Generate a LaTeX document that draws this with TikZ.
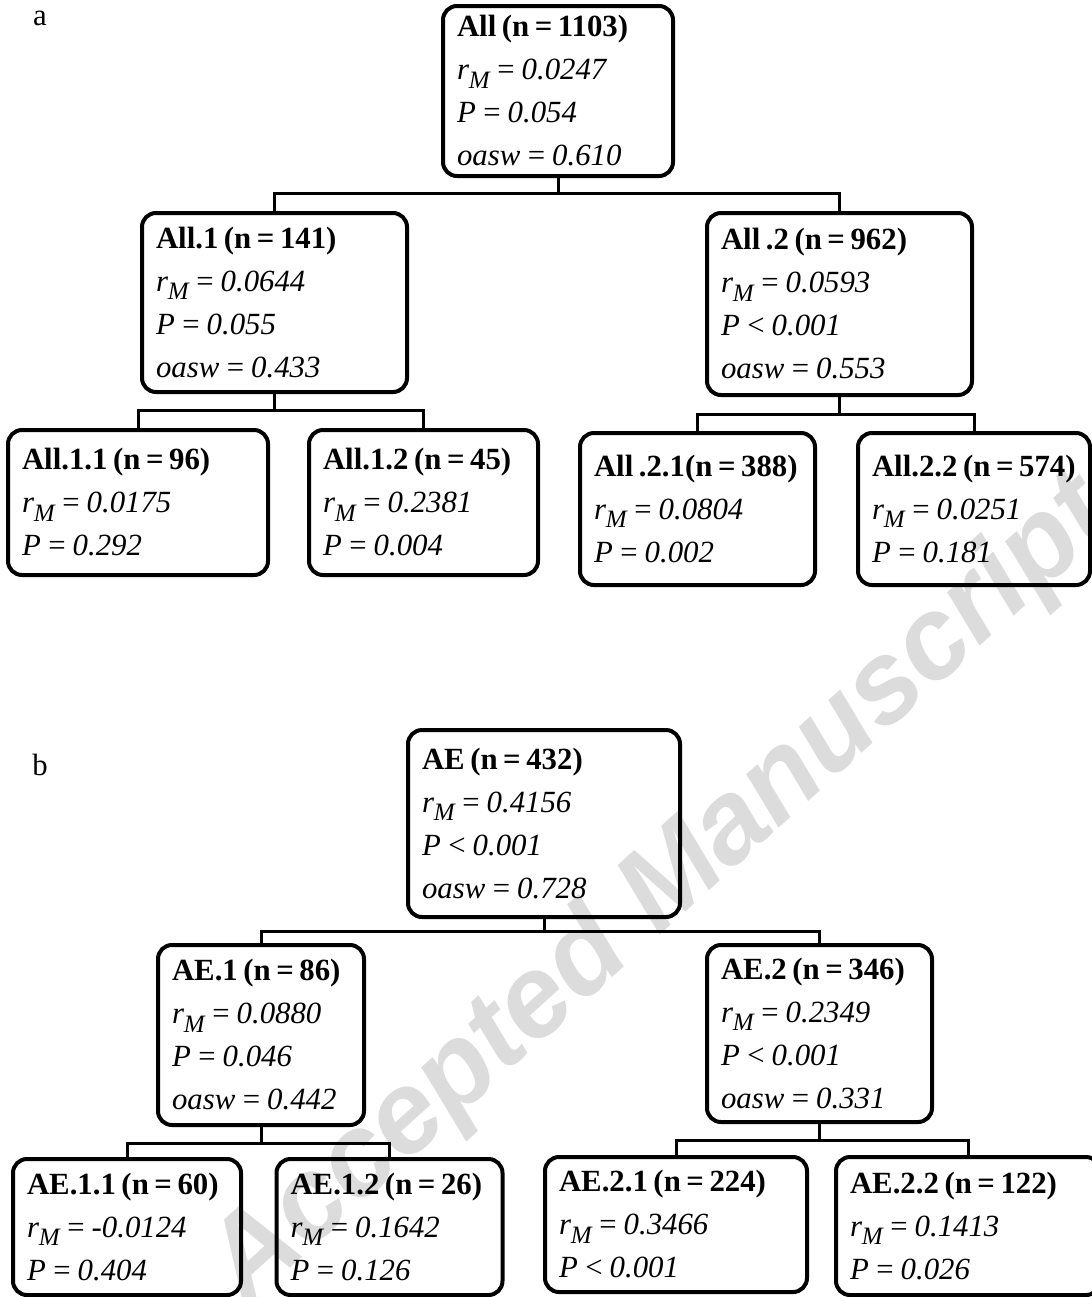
\documentclass[tikz,border=0pt]{standalone}
\usepackage{fontspec}
\setmainfont{Liberation Serif}
\newfontfamily\wmfont{Liberation Sans}
\definecolor{wmgray}{RGB}{220,220,220}
\newcommand\tightsp{\spaceskip=0.18em\relax\xspaceskip=0.18em\relax}
\newcommand\bline[1]{\mbox{\bfseries\tightsp #1}}
\newcommand\iline[1]{\mbox{\itshape\tightsp #1}}
\newcommand\rline[1]{\mbox{\itshape\tightsp r\raisebox{-0.6ex}{\fontsize{12.5pt}{12.5pt}\selectfont M} = #1}}
\begin{document}
\begin{tikzpicture}[x=0.5pt,y=-0.5pt,
  box/.style={draw, line width=2pt, rounded corners=7pt, align=left,
    inner xsep=7pt, inner ysep=0pt, font=\fontsize{15.4pt}{21.5pt}\selectfont},
  link/.style={line width=1.5pt},
  lab/.style={inner sep=0pt, font=\fontsize{15.4pt}{21.5pt}\selectfont},
  wmark/.style={text=wmgray, inner sep=0pt,
    font=\fontsize{58pt}{58pt}\selectfont\wmfont\bfseries\itshape}]
\useasboundingbox (0,0) rectangle (1092,1297);

% watermark
\node[wmark, rotate=42] (wmk) at (662,893) {Accepted Manuscript};

% panel labels
\node[lab] (la) at (40,18) {a};
\node[lab] (lb) at (40,765) {b};

% ---------- panel a ----------
\node[box, text width=101pt, minimum height=85pt] (rA) at (558,91)
  {\bline{All (n = 1103)}\\ \rline{0.0247}\\ \iline{P = 0.054}\\ \iline{oasw = 0.610}};
\node[box, text width=118.5pt, minimum height=89.5pt] (A1) at (274.5,302.5)
  {\bline{All.1 (n = 141)}\\ \rline{0.0644}\\ \iline{P = 0.055}\\ \iline{oasw = 0.433}};
\node[box, text width=118.5pt, minimum height=91pt] (A2) at (839.5,304)
  {\bline{All .2 (n = 962)}\\ \rline{0.0593}\\ \iline{P < 0.001}\\ \iline{oasw = 0.553}};
\node[box, text width=116pt, minimum height=72.5pt] (A11) at (138,502.5)
  {\bline{All.1.1 (n = 96)}\\ \rline{0.0175}\\ \iline{P = 0.292}};
\node[box, text width=100.5pt, minimum height=72.5pt] (A12) at (423.5,502.5)
  {\bline{All.1.2 (n = 45)}\\ \rline{0.2381}\\ \iline{P = 0.004}};
\node[box, text width=103.5pt, minimum height=76pt] (A21) at (697.5,509)
  {\bline{All .2.1(n = 388)}\\ \rline{0.0804}\\ \iline{P = 0.002}};
\node[box, text width=102pt, minimum height=76pt] (A22) at (974,509)
  {\bline{All.2.2 (n = 574)}\\ \rline{0.0251}\\ \iline{P = 0.181}};

\coordinate (jA) at (558,193);
\coordinate (jA1) at (274.5,410);
\coordinate (jA2) at (839.5,414);
\draw[link] (rA.south) -- (jA);
\draw[link] (A1.north) |- (jA) -| (A2.north);
\draw[link] (A1.south) -- (jA1);
\draw[link] (A11.north) |- (jA1) -| (A12.north);
\draw[link] (A2.south) -- (jA2);
\draw[link] (A21.north) |- (jA2) -| (A22.north);

% ---------- panel b ----------
\node[box, text width=122pt, minimum height=93.5pt] (rB) at (544,823.5)
  {\bline{AE (n = 432)}\\ \rline{0.4156}\\ \iline{P < 0.001}\\ \iline{oasw = 0.728}};
\node[box, text width=89pt, minimum height=90pt] (B1) at (261,1035)
  {\bline{AE.1 (n = 86)}\\ \rline{0.0880}\\ \iline{P = 0.046}\\ \iline{oasw = 0.442}};
\node[box, text width=98.5pt, minimum height=88.5pt] (B2) at (819.5,1033.5)
  {\bline{AE.2 (n = 346)}\\ \rline{0.2349}\\ \iline{P < 0.001}\\ \iline{oasw = 0.331}};
\node[box, text width=100pt, minimum height=68pt] (B11) at (127,1227)
  {\bline{AE.1.1 (n = 60)}\\ \rline{-0.0124}\\ \iline{P = 0.404}};
\node[box, text width=99pt, minimum height=68pt] (B12) at (389.5,1227)
  {\bline{AE.1.2 (n = 26)}\\ \rline{0.1642}\\ \iline{P = 0.126}};
\node[box, text width=117pt, minimum height=67.5pt] (B21) at (676,1224.5)
  {\bline{AE.2.1 (n = 224)}\\ \rline{0.3466}\\ \iline{P < 0.001}};
\node[box, text width=118pt, minimum height=69pt] (B22) at (968,1226)
  {\bline{AE.2.2 (n = 122)}\\ \rline{0.1413}\\ \iline{P = 0.026}};

\coordinate (jB) at (544,931);
\coordinate (jB1) at (261,1143);
\coordinate (jB2) at (819.5,1140);
\draw[link] (rB.south) -- (jB);
\draw[link] (B1.north) |- (jB) -| (B2.north);
\draw[link] (B1.south) -- (jB1);
\draw[link] (B11.north) |- (jB1) -| (B12.north);
\draw[link] (B2.south) -- (jB2);
\draw[link] (B21.north) |- (jB2) -| (B22.north);
\end{tikzpicture}
\end{document}
